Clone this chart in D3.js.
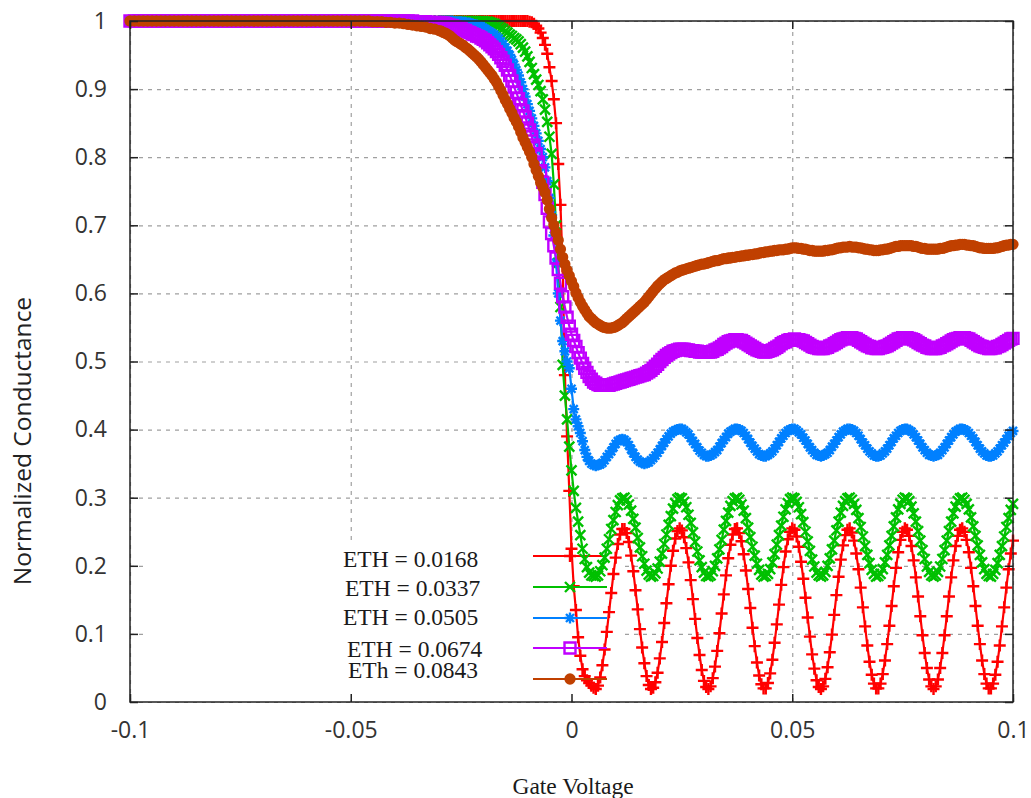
<!DOCTYPE html>
<html>
<head>
<meta charset="utf-8">
<script src="https://cdn.jsdelivr.net/npm/d3@7"></script>
<style>
body { margin: 0; background: #fff; }
svg { display: block; }
</style>
</head>
<body>
<svg id="chart"></svg>
<script>
/*=================
=== The data
=================*/
// gate voltage samples: 1 mV steps on the flat part, 0.5 mV steps from -0.03 on
var coarseStart = -0.1, coarseStep = 0.001, coarseCount = 70;
var fineStart = -0.03, fineStep = 0.0005, fineCount = 261;
var gateVoltage = d3.range(coarseCount).map(function (i) { return coarseStart + i * coarseStep; })
	.concat(d3.range(fineCount).map(function (i) { return fineStart + i * fineStep; }));

var seriesLabels = ['ETH = 0.0168', 'ETH = 0.0337', 'ETH = 0.0505', 'ETH = 0.0674', 'ETh = 0.0843'];

var xTicks = [-0.1, -0.05, 0, 0.05, 0.1];
var xTickLabels = ['-0.1', '-0.05', '0', '0.05', '0.1'];
var yTicks = [0, 0.1, 0.2, 0.3, 0.4, 0.5, 0.6, 0.7, 0.8, 0.9, 1];
var yTickLabels = ['0', '0.1', '0.2', '0.3', '0.4', '0.5', '0.6', '0.7', '0.8', '0.9', '1'];

var condEth0168 = [
	// -0.100 .. -0.031
	1,1,1,1,1,1,1,1,1,1, 1,1,1,1,1,1,1,1,1,1, 1,1,1,1,1,1,1,1,1,1, 1,1,1,1,1,1,1,1,1,1,
	1,1,1,1,1,1,1,1,1,1, 1,1,1,1,1,1,1,1,1,1, 1,1,1,1,1,1,1,1,1,1,
	// -0.030 .. 0.100
	1,1,1,1,1,1,1,1,1,1,
	1,1,1,1,1,1,1,1,1,1,
	1,1,1,1,1,1,1,1,1,1,
	1,1,1,1,1,1,1,1,1,1,
	1,0.999,0.998,0.996,0.993,0.989,0.983,0.975,0.965,0.952,
	0.932,0.912,0.885,0.85,0.79,0.73,0.64,0.48,0.39,0.31,
	0.225,0.17,0.135,0.095,0.068,0.048,0.038,0.032,0.028,0.024,
	0.021,0.019,0.024,0.036,0.054,0.077,0.103,0.132,0.16,0.188,
	0.212,0.232,0.246,0.254,0.254,0.248,0.235,0.215,0.192,0.164,
	0.136,0.107,0.08,0.057,0.038,0.025,0.019,0.021,0.029,0.043,
	0.064,0.088,0.116,0.145,0.173,0.2,0.222,0.24,0.251,0.255,
	0.252,0.242,0.226,0.205,0.179,0.151,0.122,0.094,0.069,0.047,
	0.031,0.022,0.019,0.023,0.035,0.052,0.075,0.101,0.13,0.158,
	0.186,0.211,0.231,0.246,0.254,0.255,0.248,0.236,0.217,0.193,
	0.166,0.138,0.109,0.082,0.058,0.039,0.026,0.02,0.02,0.028,
	0.042,0.062,0.087,0.114,0.143,0.172,0.198,0.221,0.239,0.25,
	0.255,0.253,0.243,0.228,0.206,0.181,0.153,0.124,0.096,0.07,
	0.049,0.032,0.022,0.019,0.023,0.034,0.051,0.073,0.099,0.128,
	0.157,0.184,0.209,0.23,0.245,0.253,0.255,0.249,0.237,0.218,
	0.195,0.168,0.139,0.111,0.083,0.059,0.04,0.027,0.02,0.02,
	0.027,0.041,0.061,0.085,0.112,0.141,0.17,0.197,0.22,0.238,
	0.25,0.255,0.253,0.244,0.229,0.208,0.183,0.155,0.126,0.098,
	0.072,0.05,0.033,0.023,0.019,0.023,0.033,0.05,0.072,0.098,
	0.126,0.155,0.183,0.208,0.229,0.244,0.253,0.255,0.25,0.238,
	0.22,0.197,0.17,0.141,0.112,0.085,0.061,0.041,0.027,0.02,
	0.02,0.027,0.04,0.059,0.083,0.111,0.139,0.168,0.195,0.218,
	0.237
];

var condEth0337 = [
	1,1,1,1,1,1,1,1,1,1, 1,1,1,1,1,1,1,1,1,1, 1,1,1,1,1,1,1,1,1,1, 1,1,1,1,1,1,1,1,1,1,
	1,1,1,1,1,1,1,1,1,1, 1,1,1,1,1,1,1,1,1,1, 1,1,1,1,1,1,1,1,1,1,
	1,1,1,1,1,1,1,1,1,1,
	1,1,1,1,1,1,1,1,1,1,
	1,0.999,0.999,0.998,0.997,0.996,0.994,0.992,0.99,0.988,
	0.985,0.983,0.98,0.978,0.975,0.973,0.97,0.966,0.961,0.955,
	0.948,0.94,0.931,0.922,0.914,0.906,0.897,0.885,0.87,0.852,
	0.83,0.805,0.76,0.7,0.645,0.58,0.495,0.45,0.415,0.375,
	0.34,0.31,0.285,0.265,0.245,0.225,0.21,0.198,0.19,0.186,
	0.185,0.184,0.186,0.192,0.201,0.212,0.225,0.239,0.254,0.267,
	0.279,0.289,0.296,0.299,0.3,0.296,0.29,0.281,0.269,0.256,
	0.241,0.227,0.214,0.203,0.193,0.187,0.184,0.185,0.189,0.196,
	0.206,0.218,0.232,0.246,0.26,0.273,0.284,0.292,0.298,0.3,
	0.299,0.294,0.286,0.275,0.263,0.249,0.235,0.221,0.208,0.198,
	0.19,0.185,0.184,0.186,0.192,0.2,0.211,0.224,0.238,0.253,
	0.266,0.278,0.288,0.295,0.299,0.3,0.297,0.29,0.281,0.27,
	0.256,0.242,0.228,0.215,0.203,0.194,0.187,0.184,0.185,0.188,
	0.195,0.205,0.217,0.231,0.245,0.259,0.272,0.283,0.292,0.298,
	0.3,0.299,0.294,0.286,0.276,0.264,0.25,0.236,0.222,0.209,
	0.199,0.19,0.186,0.184,0.186,0.191,0.2,0.211,0.224,0.237,
	0.252,0.265,0.278,0.288,0.295,0.299,0.3,0.297,0.291,0.282,
	0.27,0.257,0.243,0.229,0.216,0.204,0.194,0.188,0.184,0.185,
	0.188,0.195,0.205,0.216,0.23,0.244,0.258,0.271,0.283,0.291,
	0.297,0.3,0.299,0.295,0.287,0.277,0.265,0.251,0.237,0.223,
	0.21,0.199,0.191,0.186,0.184,0.186,0.191,0.199,0.21,0.223,
	0.237,0.251,0.265,0.277,0.287,0.295,0.299,0.3,0.297,0.291,
	0.283,0.271,0.258,0.244,0.23,0.216,0.205,0.195,0.188,0.185,
	0.184,0.188,0.194,0.204,0.216,0.229,0.243,0.257,0.27,0.282,
	0.291
];

var condEth0505 = [
	1,1,1,1,1,1,1,1,1,1, 1,1,1,1,1,1,1,1,1,1, 1,1,1,1,1,1,1,1,1,1, 1,1,1,1,1,1,1,1,1,1,
	1,1,1,1,1,1,1,1,1,1, 1,1,1,1,1,1,1,1,1,1, 1,1,1,1,1,1,1,1,1,1,
	1,1,1,1,1,1,1,0.999,0.999,0.999,
	0.999,0.998,0.998,0.997,0.997,0.996,0.995,0.994,0.993,0.992,
	0.99,0.988,0.986,0.984,0.982,0.98,0.977,0.974,0.97,0.966,
	0.961,0.956,0.95,0.943,0.936,0.928,0.92,0.91,0.9,0.889,
	0.878,0.868,0.857,0.846,0.835,0.824,0.812,0.8,0.785,0.765,
	0.74,0.715,0.685,0.645,0.6,0.56,0.53,0.515,0.5,0.49,
	0.46,0.43,0.415,0.405,0.395,0.383,0.37,0.36,0.354,0.35,
	0.348,0.347,0.348,0.349,0.351,0.355,0.36,0.364,0.368,0.374,
	0.379,0.383,0.385,0.386,0.385,0.382,0.377,0.371,0.365,0.36,
	0.356,0.353,0.351,0.35,0.351,0.352,0.355,0.358,0.362,0.366,
	0.371,0.376,0.381,0.386,0.39,0.394,0.397,0.399,0.4,0.401,
	0.401,0.399,0.396,0.393,0.388,0.383,0.379,0.374,0.369,0.366,
	0.363,0.361,0.361,0.362,0.364,0.367,0.37,0.375,0.38,0.385,
	0.389,0.394,0.397,0.399,0.401,0.401,0.4,0.398,0.395,0.391,
	0.386,0.381,0.376,0.372,0.368,0.364,0.362,0.361,0.361,0.363,
	0.365,0.368,0.372,0.377,0.382,0.387,0.391,0.395,0.398,0.4,
	0.401,0.401,0.399,0.396,0.393,0.388,0.384,0.379,0.374,0.37,
	0.366,0.363,0.362,0.361,0.362,0.364,0.366,0.37,0.375,0.379,
	0.384,0.389,0.393,0.397,0.399,0.401,0.401,0.4,0.398,0.395,
	0.391,0.386,0.381,0.377,0.372,0.368,0.365,0.362,0.361,0.361,
	0.362,0.365,0.368,0.372,0.377,0.382,0.387,0.391,0.395,0.398,
	0.4,0.401,0.401,0.399,0.397,0.393,0.389,0.384,0.379,0.374,
	0.37,0.366,0.363,0.362,0.361,0.362,0.363,0.366,0.37,0.374,
	0.379,0.384,0.389,0.393,0.397,0.399,0.401,0.401,0.4,0.398,
	0.395,0.391,0.387,0.382,0.377,0.372,0.368,0.365,0.362,0.361,
	0.361,0.362,0.365,0.368,0.372,0.377,0.381,0.386,0.391,0.395,
	0.398
];

var condEth0674 = [
	1,1,1,1,1,1,1,1,1,1, 1,1,1,1,1,1,1,1,1,1, 1,1,1,1,1,1,1,1,1,1, 1,1,1,1,1,1,1,1,1,1,
	1,1,1,1,1,1,1,1,1,1, 1,1,1,1,1,1,1,1,1,1, 1,1,1,1,1,0.999,0.999,0.999,0.998,0.998,
	0.998,0.997,0.997,0.996,0.995,0.994,0.993,0.992,0.991,0.99,
	0.989,0.987,0.986,0.984,0.983,0.981,0.98,0.978,0.977,0.975,
	0.973,0.971,0.968,0.965,0.962,0.959,0.955,0.951,0.946,0.941,
	0.935,0.928,0.92,0.912,0.903,0.895,0.886,0.877,0.868,0.859,
	0.85,0.84,0.83,0.818,0.805,0.793,0.78,0.763,0.745,0.725,
	0.705,0.688,0.67,0.652,0.635,0.615,0.595,0.58,0.565,0.552,
	0.54,0.531,0.522,0.513,0.505,0.497,0.49,0.484,0.478,0.474,
	0.47,0.468,0.466,0.465,0.465,0.465,0.465,0.465,0.466,0.467,
	0.468,0.469,0.47,0.471,0.472,0.473,0.474,0.475,0.476,0.477,
	0.478,0.479,0.48,0.481,0.483,0.485,0.487,0.49,0.493,0.496,
	0.5,0.503,0.506,0.509,0.511,0.513,0.515,0.516,0.517,0.518,
	0.518,0.518,0.517,0.517,0.516,0.516,0.515,0.515,0.514,0.514,
	0.514,0.514,0.514,0.514,0.515,0.517,0.518,0.52,0.522,0.525,
	0.527,0.529,0.53,0.531,0.532,0.532,0.531,0.531,0.529,0.527,
	0.525,0.523,0.521,0.519,0.517,0.516,0.515,0.514,0.514,0.515,
	0.516,0.517,0.519,0.521,0.523,0.526,0.528,0.529,0.531,0.532,
	0.532,0.533,0.532,0.532,0.531,0.53,0.528,0.526,0.524,0.522,
	0.521,0.52,0.519,0.519,0.519,0.52,0.521,0.523,0.524,0.526,
	0.528,0.53,0.532,0.533,0.534,0.535,0.535,0.535,0.534,0.533,
	0.531,0.529,0.527,0.525,0.523,0.522,0.52,0.52,0.519,0.519,
	0.52,0.521,0.522,0.523,0.525,0.527,0.529,0.531,0.533,0.534,
	0.535,0.535,0.535,0.534,0.533,0.532,0.53,0.528,0.526,0.524,
	0.523,0.521,0.52,0.519,0.519,0.519,0.52,0.521,0.523,0.524,
	0.526,0.528,0.53,0.532,0.533,0.534,0.535,0.535,0.535,0.534,
	0.533,0.531,0.529,0.527,0.525,0.523,0.522,0.521,0.52,0.519,
	0.519,0.52,0.52,0.522,0.523,0.525,0.527,0.529,0.531,0.533,
	0.534
];

var condEth0843 = [
	1,1,1,1,1,1,1,1,1,1, 1,1,1,1,1,1,1,1,1,1, 1,1,1,1,1,1,1,1,1,1, 1,1,1,1,1,1,1,1,1,1,
	1,1,1,1,1,1,1,1,1,1, 1,1,1,1,1,0.999,0.999,0.999,0.998,0.998, 0.997,0.997,0.996,0.995,0.994,0.993,0.992,0.991,0.989,0.988,
	0.986,0.985,0.983,0.982,0.98,0.978,0.975,0.972,0.97,0.968,
	0.966,0.964,0.961,0.959,0.956,0.953,0.95,0.947,0.944,0.94,
	0.936,0.932,0.928,0.924,0.92,0.915,0.91,0.904,0.898,0.891,
	0.884,0.878,0.871,0.865,0.858,0.852,0.845,0.837,0.829,0.822,
	0.815,0.808,0.8,0.79,0.781,0.772,0.763,0.756,0.748,0.737,
	0.724,0.711,0.7,0.689,0.678,0.665,0.653,0.643,0.634,0.626,
	0.618,0.61,0.601,0.594,0.587,0.581,0.576,0.571,0.566,0.563,
	0.56,0.557,0.555,0.553,0.551,0.55,0.549,0.549,0.549,0.55,
	0.551,0.553,0.555,0.557,0.56,0.563,0.566,0.569,0.572,0.575,
	0.578,0.581,0.584,0.587,0.591,0.595,0.599,0.603,0.607,0.611,
	0.614,0.617,0.62,0.622,0.624,0.626,0.628,0.63,0.631,0.633,
	0.634,0.635,0.636,0.637,0.638,0.639,0.64,0.641,0.642,0.643,
	0.643,0.644,0.645,0.646,0.647,0.648,0.648,0.649,0.65,0.651,
	0.651,0.652,0.652,0.653,0.653,0.654,0.654,0.655,0.655,0.656,
	0.656,0.657,0.657,0.658,0.658,0.659,0.66,0.66,0.661,0.661,
	0.662,0.662,0.663,0.663,0.664,0.664,0.664,0.665,0.665,0.666,
	0.667,0.667,0.667,0.666,0.666,0.665,0.665,0.664,0.663,0.663,
	0.662,0.662,0.662,0.662,0.662,0.663,0.663,0.664,0.664,0.665,
	0.666,0.667,0.667,0.668,0.668,0.668,0.669,0.668,0.668,0.668,
	0.667,0.667,0.666,0.665,0.665,0.664,0.664,0.663,0.663,0.663,
	0.664,0.664,0.665,0.665,0.666,0.667,0.668,0.669,0.669,0.67,
	0.67,0.67,0.67,0.67,0.67,0.669,0.669,0.668,0.667,0.666,
	0.666,0.665,0.665,0.665,0.665,0.665,0.665,0.666,0.666,0.667,
	0.668,0.669,0.67,0.67,0.671,0.671,0.672,0.672,0.672,0.671,
	0.671,0.67,0.67,0.669,0.668,0.667,0.667,0.666,0.666,0.666,
	0.666,0.666,0.667,0.667,0.668,0.669,0.67,0.671,0.671,0.672,
	0.672
];

var allSeries = [condEth0168, condEth0337, condEth0505, condEth0674, condEth0843];

/*=================
=== Layout / style
=================*/
var svgW = 1031, svgH = 798;
var plotL = 130, plotR = 1013, plotT = 21, plotB = 702;
var colors = ['#ff0000', '#00c000', '#0080ff', '#c000ff', '#c04000'];
var markers = [
	'M-6,0H6M0,-6V6',                                           // +
	'M-5,-5L5,5M-5,5L5,-5',                                     // x
	'M-5.5,0H5.5M0,-5.5V5.5M-4,-4L4,4M-4,4L4,-4',               // *
	'M-5.5,-5.5H5.5V5.5H-5.5Z',                                 // open square
	d3.symbol(d3.symbolCircle, 100)()                           // filled circle
];
var markerFilled = [false, false, false, false, true];
// key rows were nudged by hand in the original
var keyRows = [
	{ lineY: 556, textX: 343, textY: 567 },
	{ lineY: 587, textX: 345, textY: 596 },
	{ lineY: 618, textX: 343, textY: 625 },
	{ lineY: 648, textX: 347, textY: 657 },
	{ lineY: 679, textX: 348, textY: 678 }
];

var svg = d3.select('#chart').attr('width', svgW).attr('height', svgH);

var x = d3.scaleLinear().domain([-0.1, 0.1]).range([plotL, plotR]);
var y = d3.scaleLinear().domain([0, 1]).range([plotB, plotT]);

/*=================
=== Grid
=================*/
var grid = svg.append('g').attr('class', 'grid');
grid.append('g')
	.attr('transform', 'translate(' + plotL + ',0)')
	.call(d3.axisLeft(y).tickValues(yTicks).tickSize(-(plotR - plotL)).tickFormat(''));
grid.append('g')
	.attr('transform', 'translate(0,' + plotB + ')')
	.call(d3.axisBottom(x).tickValues(xTicks).tickSize(-(plotB - plotT)).tickFormat(''));
grid.selectAll('.domain').remove();
grid.selectAll('line')
	.attr('stroke', '#a0a0a0')
	.attr('stroke-width', 1.2)
	.attr('stroke-dasharray', '4,5');

// the key box hides the grid behind it
svg.append('rect')
	.attr('x', 148).attr('y', 541)
	.attr('width', 472).attr('height', 159)
	.attr('fill', '#fff');

/*=================
=== Curves + key
=================*/
var line = d3.line()
	.x(function (d) { return x(d[0]); })
	.y(function (d) { return y(d[1]); });

allSeries.forEach(function (vals, i) {
	var n = Math.min(vals.length, gateVoltage.length);
	if (vals.length !== gateVoltage.length) console.warn('series ' + i + ' has ' + vals.length + ' values');
	var pts = d3.range(n).map(function (j) { return [gateVoltage[j], vals[j]]; });
	var g = svg.append('g').attr('class', 'series');

	g.append('path')
		.datum(pts)
		.attr('d', line)
		.attr('fill', 'none')
		.attr('stroke', colors[i])
		.attr('stroke-width', 2.2);

	g.selectAll('.pt')
		.data(pts)
		.join('path')
		.attr('class', 'pt')
		.attr('transform', function (d) { return 'translate(' + x(d[0]) + ',' + y(d[1]) + ')'; })
		.attr('d', markers[i])
		.attr('fill', markerFilled[i] ? colors[i] : 'none')
		.attr('stroke', colors[i])
		.attr('stroke-width', markerFilled[i] ? 0 : 2.4);

	// key entry
	var row = keyRows[i];
	g.append('line')
		.attr('x1', 533).attr('x2', 607)
		.attr('y1', row.lineY).attr('y2', row.lineY)
		.attr('stroke', colors[i])
		.attr('stroke-width', 2.2);
	g.append('path')
		.attr('transform', 'translate(570,' + row.lineY + ')')
		.attr('d', markers[i])
		.attr('fill', markerFilled[i] ? colors[i] : 'none')
		.attr('stroke', colors[i])
		.attr('stroke-width', markerFilled[i] ? 0 : 2.4);
	svg.append('text')
		.attr('x', row.textX).attr('y', row.textY)
		.attr('font-family', '"Liberation Serif", "Times New Roman", serif')
		.attr('font-size', 23.5)
		.attr('fill', '#1a1a1a')
		.text(seriesLabels[i]);
});

/*=================
=== Axes + border
=================*/
var tickFont = '"Open Sans", "Noto Sans", sans-serif';

var yAxis = svg.append('g')
	.attr('transform', 'translate(' + plotL + ',0)')
	.call(d3.axisLeft(y).tickValues(yTicks)
		.tickFormat(function (d, i) { return yTickLabels[i]; })
		.tickSize(-8).tickPadding(23));
var xAxis = svg.append('g')
	.attr('transform', 'translate(0,' + plotB + ')')
	.call(d3.axisBottom(x).tickValues(xTicks)
		.tickFormat(function (d, i) { return xTickLabels[i]; })
		.tickSize(-8).tickPadding(20));
var rAxis = svg.append('g')
	.attr('transform', 'translate(' + plotR + ',0)')
	.call(d3.axisRight(y).tickValues(yTicks).tickSize(-8).tickFormat(''));
var tAxis = svg.append('g')
	.attr('transform', 'translate(0,' + plotT + ')')
	.call(d3.axisTop(x).tickValues(xTicks).tickSize(-8).tickFormat(''));

[yAxis, xAxis, rAxis, tAxis].forEach(function (a) {
	a.select('.domain').remove();
	a.selectAll('line').attr('stroke', '#222').attr('stroke-width', 1.5);
	a.selectAll('text')
		.attr('font-family', tickFont)
		.attr('font-size', 23)
		.attr('fill', '#333');
});

svg.append('rect')
	.attr('x', plotL).attr('y', plotT)
	.attr('width', plotR - plotL).attr('height', plotB - plotT)
	.attr('fill', 'none')
	.attr('stroke', '#222')
	.attr('stroke-width', 1.5);

// titles
svg.append('text')
	.attr('transform', 'translate(31,441) rotate(-90)')
	.attr('text-anchor', 'middle')
	.attr('font-family', tickFont)
	.attr('font-size', 24.5)
	.attr('fill', '#222')
	.text('Normalized Conductance');

svg.append('text')
	.attr('x', 573).attr('y', 794)
	.attr('text-anchor', 'middle')
	.attr('font-family', '"Liberation Serif", "Times New Roman", serif')
	.attr('font-size', 23.5)
	.attr('fill', '#1a1a1a')
	.text('Gate Voltage');
</script>
</body>
</html>
